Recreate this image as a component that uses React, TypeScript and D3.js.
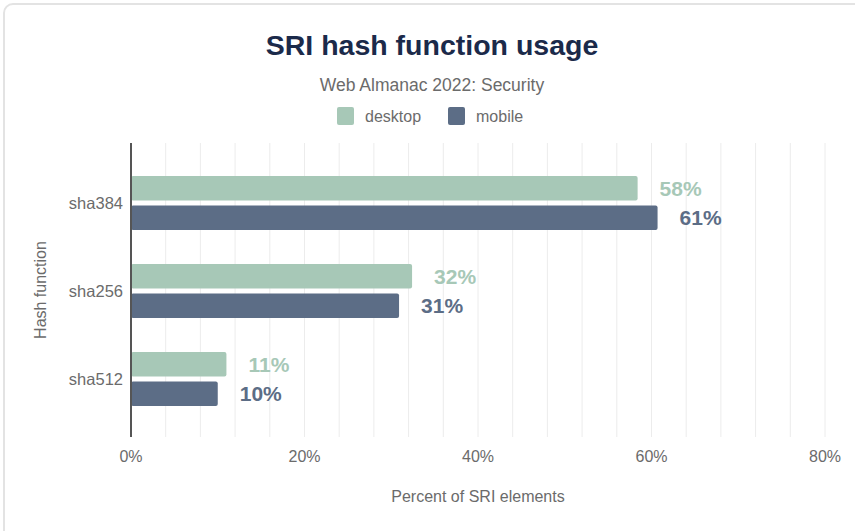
import React from 'react';
import * as d3 from 'd3';

const categories = ['sha384', 'sha256', 'sha512'];
const seriesNames = ['desktop', 'mobile'];
const desktopValues = [58.4, 32.4, 11.0];
const mobileValues = [60.7, 30.9, 10.0];
const xTickValues = [0, 20, 40, 60, 80];

const COLORS: Record<string, string> = { desktop: '#a7c8b7', mobile: '#5c6d86' };
const FONT = '"Liberation Sans", Arial, Helvetica, sans-serif';

const W = 855;
const H = 531;
const margin = { left: 131, right: 30, top: 143, bottom: 94 };

const App = () => {
  const x = d3.scaleLinear().domain([0, 80]).range([margin.left, W - margin.right]);
  const y = d3.scaleBand<string>().domain(categories).range([159, 423]).paddingInner(0.386).paddingOuter(0.193);
  const inner = d3.scaleBand<string>().domain(seriesNames).range([0, y.bandwidth()]).paddingInner(0.17);
  const grid = d3.range(0, 81, 4);

  const rows = categories.map((c, i) => ({ c, vals: { desktop: desktopValues[i], mobile: mobileValues[i] } as Record<string, number> }));

  return (
    <svg width={W} height={H} style={{ position: 'absolute', left: 0, top: 0, fontFamily: FONT }}>
      <rect x={4} y={4} width={W + 20} height={H + 20} rx={9} fill="#fff" stroke="#e3e3e3" strokeWidth={2} />
      <text x={432} y={55} textAnchor="middle" fontSize={28.5} fontWeight="bold" fill="#1b2a4a">SRI hash function usage</text>
      <text x={432} y={91} textAnchor="middle" fontSize={17.5} fill="#6b6b6b">Web Almanac 2022: Security</text>

      {seriesNames.map((s, i) => {
        const lx = [337, 448][i];
        return (
          <g key={s}>
            <rect x={lx} y={107} width={17} height={18} rx={2} fill={COLORS[s]} />
            <text x={lx + 28} y={122} fontSize={16} fill="#6b6b6b">{s}</text>
          </g>
        );
      })}

      {grid.map((g) => (
        <line key={g} x1={x(g)} x2={x(g)} y1={margin.top} y2={H - margin.bottom} stroke="#ececec" strokeWidth={1} />
      ))}

      {rows.map((r) => (
        <g key={r.c} transform={`translate(0,${y(r.c)})`}>
          {seriesNames.map((s) => (
            <g key={s}>
              <rect x={x(0)} y={inner(s)} width={x(r.vals[s]) - x(0)} height={inner.bandwidth()} rx={2} fill={COLORS[s]} />
              <text x={x(r.vals[s]) + 22} y={(inner(s) as number) + inner.bandwidth() / 2 + 7.5} fontSize={21} fontWeight="bold" fill={COLORS[s]}>
                {Math.round(r.vals[s])}%
              </text>
            </g>
          ))}
          <text x={123} y={y.bandwidth() / 2 + 6} textAnchor="end" fontSize={16.5} fill="#6b6b6b">{r.c}</text>
        </g>
      ))}

      <line x1={x(0)} x2={x(0)} y1={margin.top} y2={H - margin.bottom} stroke="#555" strokeWidth={2} />

      {xTickValues.map((t) => (
        <text key={t} x={x(t)} y={462} textAnchor="middle" fontSize={16} fill="#6b6b6b">{t}%</text>
      ))}

      <text x={478} y={502} textAnchor="middle" fontSize={16} fill="#6b6b6b">Percent of SRI elements</text>
      <text transform={`translate(46,290) rotate(-90)`} textAnchor="middle" fontSize={16} fill="#6b6b6b">Hash function</text>
    </svg>
  );
};

export default App;
